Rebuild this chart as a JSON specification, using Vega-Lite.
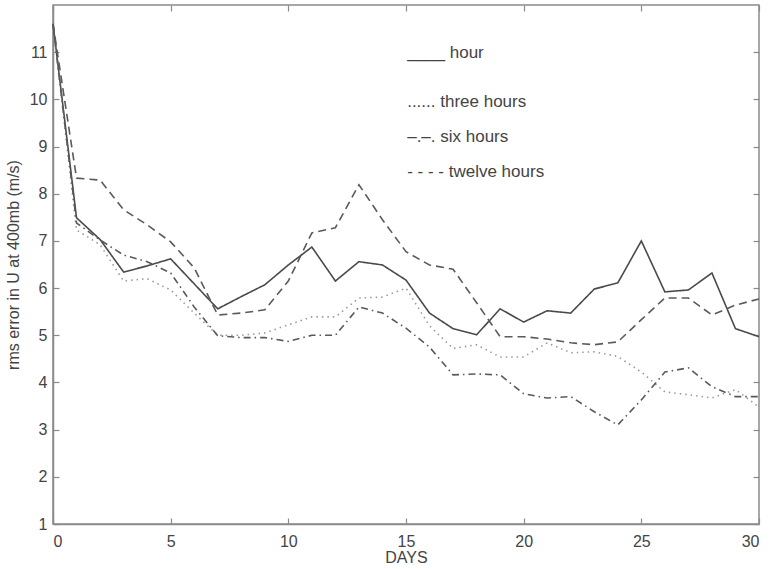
{
  "$schema": "https://vega.github.io/schema/vega-lite/v6.json",
  "width": 706,
  "height": 519,
  "autosize": {"type": "none"},
  "padding": {"left": 53, "top": 5, "right": 12, "bottom": 45},
  "background": "white",
  "config": {
    "view": {"stroke": "#8a8a8a", "strokeWidth": 1.5},
    "font": "Liberation Sans",
    "axis": {
      "grid": false,
      "domainColor": "#8a8a8a",
      "domainWidth": 1.5,
      "tickColor": "#8a8a8a",
      "tickWidth": 1.2,
      "tickSize": -6,
      "labelColor": "#444444",
      "labelFont": "Liberation Sans",
      "labelFontSize": 16,
      "titleColor": "#444444",
      "titleFont": "Liberation Sans",
      "titleFontSize": 16,
      "titleFontWeight": "normal"
    }
  },
  "datasets": {
    "errors": [
      {"day": 0, "series": "hour", "value": 11.6},
      {"day": 1, "series": "hour", "value": 7.49},
      {"day": 2, "series": "hour", "value": 7.03},
      {"day": 3, "series": "hour", "value": 6.34},
      {"day": 4, "series": "hour", "value": 6.47},
      {"day": 5, "series": "hour", "value": 6.62},
      {"day": 6, "series": "hour", "value": 6.09},
      {"day": 7, "series": "hour", "value": 5.56},
      {"day": 8, "series": "hour", "value": 5.82},
      {"day": 9, "series": "hour", "value": 6.07},
      {"day": 10, "series": "hour", "value": 6.49},
      {"day": 11, "series": "hour", "value": 6.87},
      {"day": 12, "series": "hour", "value": 6.15},
      {"day": 13, "series": "hour", "value": 6.56},
      {"day": 14, "series": "hour", "value": 6.49},
      {"day": 15, "series": "hour", "value": 6.17},
      {"day": 16, "series": "hour", "value": 5.47},
      {"day": 17, "series": "hour", "value": 5.14},
      {"day": 18, "series": "hour", "value": 5.01},
      {"day": 19, "series": "hour", "value": 5.56},
      {"day": 20, "series": "hour", "value": 5.28},
      {"day": 21, "series": "hour", "value": 5.52},
      {"day": 22, "series": "hour", "value": 5.47},
      {"day": 23, "series": "hour", "value": 5.98},
      {"day": 24, "series": "hour", "value": 6.11},
      {"day": 25, "series": "hour", "value": 7.0},
      {"day": 26, "series": "hour", "value": 5.92},
      {"day": 27, "series": "hour", "value": 5.96},
      {"day": 28, "series": "hour", "value": 6.32},
      {"day": 29, "series": "hour", "value": 5.14},
      {"day": 30, "series": "hour", "value": 4.97},
      {"day": 0, "series": "three hours", "value": 11.6},
      {"day": 1, "series": "three hours", "value": 7.23},
      {"day": 2, "series": "three hours", "value": 6.92},
      {"day": 3, "series": "three hours", "value": 6.15},
      {"day": 4, "series": "three hours", "value": 6.2},
      {"day": 5, "series": "three hours", "value": 5.96},
      {"day": 6, "series": "three hours", "value": 5.47},
      {"day": 7, "series": "three hours", "value": 5.0},
      {"day": 8, "series": "three hours", "value": 5.0},
      {"day": 9, "series": "three hours", "value": 5.05},
      {"day": 10, "series": "three hours", "value": 5.22},
      {"day": 11, "series": "three hours", "value": 5.39},
      {"day": 12, "series": "three hours", "value": 5.39},
      {"day": 13, "series": "three hours", "value": 5.79},
      {"day": 14, "series": "three hours", "value": 5.81},
      {"day": 15, "series": "three hours", "value": 6.0},
      {"day": 16, "series": "three hours", "value": 5.2},
      {"day": 17, "series": "three hours", "value": 4.72},
      {"day": 18, "series": "three hours", "value": 4.8},
      {"day": 19, "series": "three hours", "value": 4.54},
      {"day": 20, "series": "three hours", "value": 4.54},
      {"day": 21, "series": "three hours", "value": 4.84},
      {"day": 22, "series": "three hours", "value": 4.63},
      {"day": 23, "series": "three hours", "value": 4.65},
      {"day": 24, "series": "three hours", "value": 4.55},
      {"day": 25, "series": "three hours", "value": 4.22},
      {"day": 26, "series": "three hours", "value": 3.8},
      {"day": 27, "series": "three hours", "value": 3.74},
      {"day": 28, "series": "three hours", "value": 3.67},
      {"day": 29, "series": "three hours", "value": 3.85},
      {"day": 30, "series": "three hours", "value": 3.48},
      {"day": 0, "series": "six hours", "value": 11.6},
      {"day": 1, "series": "six hours", "value": 7.38},
      {"day": 2, "series": "six hours", "value": 7.02},
      {"day": 3, "series": "six hours", "value": 6.7},
      {"day": 4, "series": "six hours", "value": 6.56},
      {"day": 5, "series": "six hours", "value": 6.32},
      {"day": 6, "series": "six hours", "value": 5.6},
      {"day": 7, "series": "six hours", "value": 4.99},
      {"day": 8, "series": "six hours", "value": 4.95},
      {"day": 9, "series": "six hours", "value": 4.95},
      {"day": 10, "series": "six hours", "value": 4.87},
      {"day": 11, "series": "six hours", "value": 5.0},
      {"day": 12, "series": "six hours", "value": 5.0},
      {"day": 13, "series": "six hours", "value": 5.6},
      {"day": 14, "series": "six hours", "value": 5.47},
      {"day": 15, "series": "six hours", "value": 5.15},
      {"day": 16, "series": "six hours", "value": 4.75},
      {"day": 17, "series": "six hours", "value": 4.16},
      {"day": 18, "series": "six hours", "value": 4.18},
      {"day": 19, "series": "six hours", "value": 4.16},
      {"day": 20, "series": "six hours", "value": 3.76},
      {"day": 21, "series": "six hours", "value": 3.67},
      {"day": 22, "series": "six hours", "value": 3.7},
      {"day": 23, "series": "six hours", "value": 3.38},
      {"day": 24, "series": "six hours", "value": 3.1},
      {"day": 25, "series": "six hours", "value": 3.63},
      {"day": 26, "series": "six hours", "value": 4.22},
      {"day": 27, "series": "six hours", "value": 4.31},
      {"day": 28, "series": "six hours", "value": 3.91},
      {"day": 29, "series": "six hours", "value": 3.7},
      {"day": 30, "series": "six hours", "value": 3.7},
      {"day": 0, "series": "twelve hours", "value": 11.6},
      {"day": 1, "series": "twelve hours", "value": 8.33},
      {"day": 2, "series": "twelve hours", "value": 8.29},
      {"day": 3, "series": "twelve hours", "value": 7.66},
      {"day": 4, "series": "twelve hours", "value": 7.34},
      {"day": 5, "series": "twelve hours", "value": 6.98},
      {"day": 6, "series": "twelve hours", "value": 6.43},
      {"day": 7, "series": "twelve hours", "value": 5.43},
      {"day": 8, "series": "twelve hours", "value": 5.47},
      {"day": 9, "series": "twelve hours", "value": 5.54},
      {"day": 10, "series": "twelve hours", "value": 6.15},
      {"day": 11, "series": "twelve hours", "value": 7.17},
      {"day": 12, "series": "twelve hours", "value": 7.28},
      {"day": 13, "series": "twelve hours", "value": 8.19},
      {"day": 14, "series": "twelve hours", "value": 7.45},
      {"day": 15, "series": "twelve hours", "value": 6.77},
      {"day": 16, "series": "twelve hours", "value": 6.49},
      {"day": 17, "series": "twelve hours", "value": 6.4},
      {"day": 18, "series": "twelve hours", "value": 5.69},
      {"day": 19, "series": "twelve hours", "value": 4.97},
      {"day": 20, "series": "twelve hours", "value": 4.97},
      {"day": 21, "series": "twelve hours", "value": 4.92},
      {"day": 22, "series": "twelve hours", "value": 4.84},
      {"day": 23, "series": "twelve hours", "value": 4.8},
      {"day": 24, "series": "twelve hours", "value": 4.86},
      {"day": 25, "series": "twelve hours", "value": 5.33},
      {"day": 26, "series": "twelve hours", "value": 5.79},
      {"day": 27, "series": "twelve hours", "value": 5.79},
      {"day": 28, "series": "twelve hours", "value": 5.43},
      {"day": 29, "series": "twelve hours", "value": 5.64},
      {"day": 30, "series": "twelve hours", "value": 5.77}
    ],
    "legend": [
      {"day": 15.05, "value": 10.98, "label": "____ hour"},
      {"day": 15.05, "value": 9.94, "label": "...... three hours"},
      {"day": 15.05, "value": 9.2, "label": "–.–. six hours"},
      {"day": 15.05, "value": 8.46, "label": "- - - - twelve hours"}
    ]
  },
  "layer": [
    {
      "data": {"name": "errors"},
      "mark": {"type": "line", "strokeWidth": 1.6},
      "encoding": {
        "x": {
          "field": "day", "type": "quantitative",
          "scale": {"domain": [0, 30], "nice": false},
          "axis": {"orient": "bottom", "title": "DAYS", "values": [0, 5, 10, 15, 20, 25, 30], "labelPadding": 15, "titlePadding": 0}
        },
        "y": {
          "field": "value", "type": "quantitative",
          "scale": {"domain": [1, 12], "nice": false, "zero": false},
          "axis": {"orient": "left", "title": "rms error in U at 400mb (m/s)", "values": [1, 2, 3, 4, 5, 6, 7, 8, 9, 10, 11], "labelPadding": 12, "titlePadding": 8}
        },
        "detail": {"field": "series"},
        "color": {
          "field": "series", "type": "nominal",
          "scale": {"domain": ["hour", "three hours", "six hours", "twelve hours"], "range": ["#4a4a4a", "#9a9a9a", "#5a5a5a", "#5a5a5a"]},
          "legend": null
        },
        "strokeDash": {
          "field": "series", "type": "nominal",
          "scale": {"domain": ["hour", "three hours", "six hours", "twelve hours"], "range": [[1, 0], [1.5, 4], [7, 4, 1.5, 4], [8, 5]]},
          "legend": null
        }
      }
    },
    {
      "data": {"name": "legend"},
      "mark": {"type": "text", "align": "left", "baseline": "middle", "fontSize": 17, "font": "Liberation Sans", "color": "#444444"},
      "encoding": {
        "x": {"field": "day", "type": "quantitative", "axis": {"orient": "top", "title": null, "labels": false, "domain": false, "values": [0, 5, 10, 15, 20, 25, 30]}},
        "y": {"field": "value", "type": "quantitative", "axis": {"orient": "right", "title": null, "labels": false, "domain": false, "values": [1, 2, 3, 4, 5, 6, 7, 8, 9, 10, 11]}},
        "text": {"field": "label"}
      }
    }
  ],
  "resolve": {"axis": {"x": "independent", "y": "independent"}}
}
